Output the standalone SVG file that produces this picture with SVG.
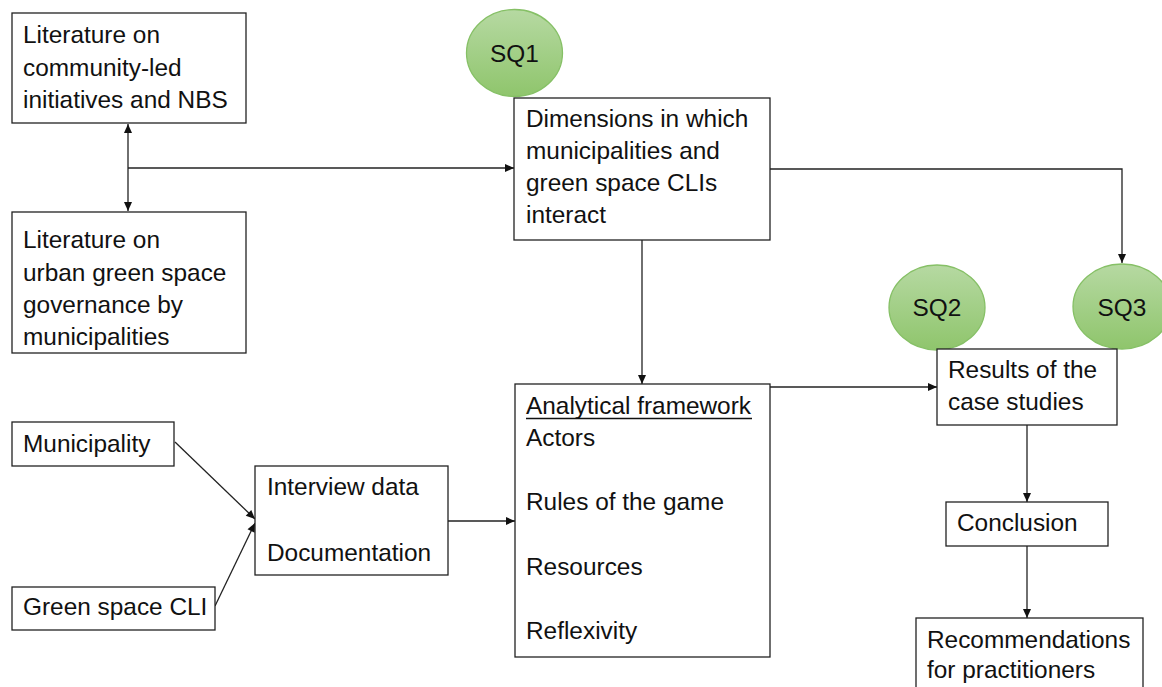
<svg xmlns="http://www.w3.org/2000/svg" width="1162" height="687" viewBox="0 0 1162 687">
<style>
.box{fill:#fff;stroke:#222;stroke-width:1.3}
.t{font-family:"Liberation Sans",Arial,sans-serif;font-size:24.4px;fill:#111}
.c{stroke:#222;stroke-width:1.3;fill:none}
.sq{fill:url(#g);stroke:#86c066;stroke-width:1.3}
</style>
<defs>
<linearGradient id="g" x1="0" y1="0" x2="0" y2="1">
<stop offset="0" stop-color="#b6d9a2"/>
<stop offset="1" stop-color="#8fc56c"/>
</linearGradient>
<marker id="a" markerUnits="userSpaceOnUse" markerWidth="11" markerHeight="11" viewBox="0 0 11 11" refX="10" refY="5.5" orient="auto-start-reverse">
<path d="M1,1.5 L10,5.5 L1,9.5 z" fill="#111"/>
</marker>
</defs>
<rect width="1162" height="687" fill="#fff"/>
<g id="connectors">
<line class="c" x1="128" y1="124" x2="128" y2="211" marker-start="url(#a)" marker-end="url(#a)"/>
<line class="c" x1="128" y1="168" x2="514" y2="168" marker-end="url(#a)"/>
<polyline class="c" points="770,169 1122,169 1122,263" marker-end="url(#a)"/>
<line class="c" x1="642" y1="240" x2="642" y2="384" marker-end="url(#a)"/>
<line class="c" x1="770" y1="387" x2="937" y2="387" marker-end="url(#a)"/>
<line class="c" x1="175" y1="442" x2="255" y2="519" marker-end="url(#a)"/>
<line class="c" x1="215" y1="606" x2="255" y2="523" marker-end="url(#a)"/>
<line class="c" x1="448" y1="521" x2="515" y2="521" marker-end="url(#a)"/>
<line class="c" x1="1027" y1="425" x2="1027" y2="502" marker-end="url(#a)"/>
<line class="c" x1="1027" y1="546" x2="1027" y2="618" marker-end="url(#a)"/>
</g>
<g id="lit-cli">
<rect class="box" x="12" y="13" width="234" height="110"/>
<text class="t" x="23" y="43">Literature on</text>
<text class="t" x="23" y="76">community-led</text>
<text class="t" x="23" y="108">initiatives and NBS</text>
</g>
<g id="lit-gov">
<rect class="box" x="12" y="212" width="234" height="141"/>
<text class="t" x="23" y="248">Literature on</text>
<text class="t" x="23" y="281">urban green space</text>
<text class="t" x="23" y="313">governance by</text>
<text class="t" x="23" y="345">municipalities</text>
</g>
<g id="sq1">
<ellipse class="sq" cx="514.5" cy="53" rx="48" ry="43.5"/>
<text class="t" x="514.5" y="62" text-anchor="middle">SQ1</text>
</g>
<g id="dimensions">
<rect class="box" x="514" y="98" width="256" height="142"/>
<text class="t" x="526" y="127">Dimensions in which</text>
<text class="t" x="526" y="159">municipalities and</text>
<text class="t" x="526" y="191">green space CLIs</text>
<text class="t" x="526" y="223">interact</text>
</g>
<g id="sq2">
<ellipse class="sq" cx="937" cy="307.5" rx="48" ry="42.5"/>
<text class="t" x="937" y="316" text-anchor="middle">SQ2</text>
</g>
<g id="sq3">
<ellipse class="sq" cx="1122" cy="306.5" rx="49" ry="42.5"/>
<text class="t" x="1122" y="316" text-anchor="middle">SQ3</text>
</g>
<g id="results">
<rect class="box" x="937" y="349" width="180" height="76"/>
<text class="t" x="948" y="378">Results of the</text>
<text class="t" x="948" y="410">case studies</text>
</g>
<g id="municipality">
<rect class="box" x="12" y="422" width="162" height="44"/>
<text class="t" x="23" y="452">Municipality</text>
</g>
<g id="green-cli">
<rect class="box" x="12" y="587" width="203" height="43"/>
<text class="t" x="23" y="615">Green space CLI</text>
</g>
<g id="interview">
<rect class="box" x="255" y="466" width="193" height="109"/>
<text class="t" x="267" y="495">Interview data</text>
<text class="t" x="267" y="561">Documentation</text>
</g>
<g id="framework">
<rect class="box" x="515" y="384" width="255" height="273"/>
<text class="t" x="526" y="414">Analytical framework</text>
<line x1="526" y1="418.5" x2="752" y2="418.5" stroke="#111" stroke-width="1.5"/>
<text class="t" x="526" y="446">Actors</text>
<text class="t" x="526" y="510">Rules of the game</text>
<text class="t" x="526" y="575">Resources</text>
<text class="t" x="526" y="639">Reflexivity</text>
</g>
<g id="conclusion">
<rect class="box" x="946" y="502" width="162" height="44"/>
<text class="t" x="957" y="531">Conclusion</text>
</g>
<g id="recommendations">
<rect class="box" x="916" y="618" width="227" height="80"/>
<text class="t" x="927" y="648">Recommendations</text>
<text class="t" x="927" y="678">for practitioners</text>
</g>
</svg>
